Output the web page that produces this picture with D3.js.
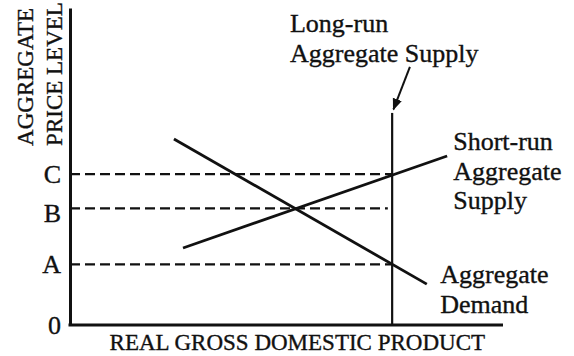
<!DOCTYPE html>
<html>
<head>
<meta charset="utf-8">
<script src="https://cdn.jsdelivr.net/npm/d3@7"></script>
<style>
    body { margin: 0; background: white; }
    svg text { font-family: "Liberation Serif", "Times New Roman", serif; fill: #111; stroke: #111; stroke-width: 0.35px; }
</style>
</head>
<body>
<div id="as-chart"></div>
<script>
// values are in chart units: output 0-100 along x, price level 0-100 along y
let priceLevels = [0, 19.1, 36.8, 47.6];
let priceLabels = ["0", "A", "B", "C"];

let lrasOutput = 74.4;
let lrasTop = 66.9;

let demandCurve = [{q: 24.0, p: 58.7}, {q: 82.4, p: 12.9}];
let supplyCurve = [{q: 26.1, p: 24.3}, {q: 87.1, p: 53.3}];

// dashed guides: price level and where they stop
let guides = [{p: 47.6, end: 74.4}, {p: 36.8, end: 73.4}, {p: 19.1, end: 74.4}];

let curveLabels = [
    {lines: ["Long-run", "Aggregate Supply"], q: 50.8, p: 92.4},
    {lines: ["Short-run", "Aggregate", "Supply"], q: 88.5, p: 55.2},
    {lines: ["Aggregate", "Demand"], q: 85.5, p: 13.2}
];
let lrasArrow = [{q: 78.5, p: 81.4}, {q: 74.7, p: 68.0}];

class ASADChart {

    constructor(parentElement) {
        this.parentElement = parentElement;
        this.initVis()
    }

    initVis(){
        let vis = this;

        vis.margin = {top: 8, right: 71, bottom: 31, left: 70};
        vis.width = 574 - vis.margin.left - vis.margin.right;
        vis.height = 356 - vis.margin.top - vis.margin.bottom;

        vis.svg = d3.select("#" + vis.parentElement).append("svg")
            .attr("width", 574)
            .attr("height", 356)
            .append("g")
            .attr("transform", `translate (${vis.margin.left}, ${vis.margin.top})`);

        vis.x = d3.scaleLinear().domain([0, 100]).range([0, vis.width]);
        vis.y = d3.scaleLinear().domain([0, 100]).range([vis.height, 0]);

        // arrow head for the LRAS pointer
        vis.svg.append("defs").append("marker")
            .attr("id", "head")
            .attr("viewBox", "0 0 10 10")
            .attr("refX", 9).attr("refY", 5)
            .attr("markerWidth", 6).attr("markerHeight", 6)
            .attr("orient", "auto")
            .append("path")
            .attr("d", "M0,1 L10,5 L0,9 Z")
            .attr("fill", "#111");

        vis.updateVis()
    }

    updateVis(){
        let vis = this;

        // dashed price guides
        vis.svg.selectAll(".guide")
            .data(guides)
            .enter().append("line")
            .attr("class", "guide")
            .attr("x1", vis.x(0))
            .attr("x2", d => vis.x(d.end))
            .attr("y1", d => vis.y(d.p))
            .attr("y2", d => vis.y(d.p))
            .attr("stroke", "#111")
            .attr("stroke-width", 2.3)
            .attr("stroke-dasharray", "10,5");

        // long-run aggregate supply
        vis.svg.append("line")
            .attr("x1", vis.x(lrasOutput))
            .attr("x2", vis.x(lrasOutput))
            .attr("y1", vis.y(0))
            .attr("y2", vis.y(lrasTop))
            .attr("stroke", "#111")
            .attr("stroke-width", 2.2);

        let line = d3.line().x(d => vis.x(d.q)).y(d => vis.y(d.p));

        vis.svg.selectAll(".curve")
            .data([demandCurve, supplyCurve])
            .enter().append("path")
            .attr("class", "curve")
            .attr("d", line)
            .attr("fill", "none")
            .attr("stroke", "#111")
            .attr("stroke-width", 2.8);

        vis.svg.append("path")
            .attr("d", line(lrasArrow))
            .attr("stroke", "#111")
            .attr("stroke-width", 2)
            .attr("marker-end", "url(#head)");

        // axes
        let yAxis = d3.axisLeft(vis.y)
            .tickValues(priceLevels)
            .tickFormat((d, i) => priceLabels[i])
            .tickSize(0)
            .tickPadding(9);
        let xAxis = d3.axisBottom(vis.x).tickValues([]).tickSize(0).tickSizeOuter(0);

        let yg = vis.svg.append("g").call(yAxis);
        let xg = vis.svg.append("g").attr("transform", `translate(0,${vis.height})`).call(xAxis);
        [yg, xg].forEach(g => {
            g.select(".domain").attr("stroke", "#111").attr("stroke-width", 3);
        });
        xg.select(".domain").attr("d", `M-1.5,0H${vis.width}`);
        yg.selectAll("text")
            .attr("font-size", 26)
            .attr("font-family", "Liberation Serif")
            .attr("fill", "#111")
            .attr("dy", (d, i) => priceLabels[i] === "B" ? "0.5em" : "0.32em");

        // axis titles
        vis.svg.append("text")
            .attr("x", vis.x(52.5))
            .attr("y", vis.height + 25)
            .attr("text-anchor", "middle")
            .attr("font-size", 23)
            .text("REAL GROSS DOMESTIC PRODUCT");

        let ytitle = vis.svg.append("g")
            .attr("transform", `translate(-37, ${vis.y(56.5)}) rotate(-90)`);
        ["AGGREGATE", "PRICE LEVEL"].forEach((t, i) => {
            ytitle.append("text")
                .attr("x", 0)
                .attr("y", i * 29)
                .attr("font-size", 23)
                .text(t);
        });

        // curve labels
        curveLabels.forEach(l => {
            let t = vis.svg.append("text")
                .attr("x", vis.x(l.q))
                .attr("y", vis.y(l.p))
                .attr("font-size", 26);
            l.lines.forEach((s, i) => {
                t.append("tspan")
                    .attr("x", vis.x(l.q))
                    .attr("dy", i === 0 ? 0 : 29.5)
                    .text(s);
            });
        });
    }
}

new ASADChart("as-chart");
</script>
</body>
</html>
